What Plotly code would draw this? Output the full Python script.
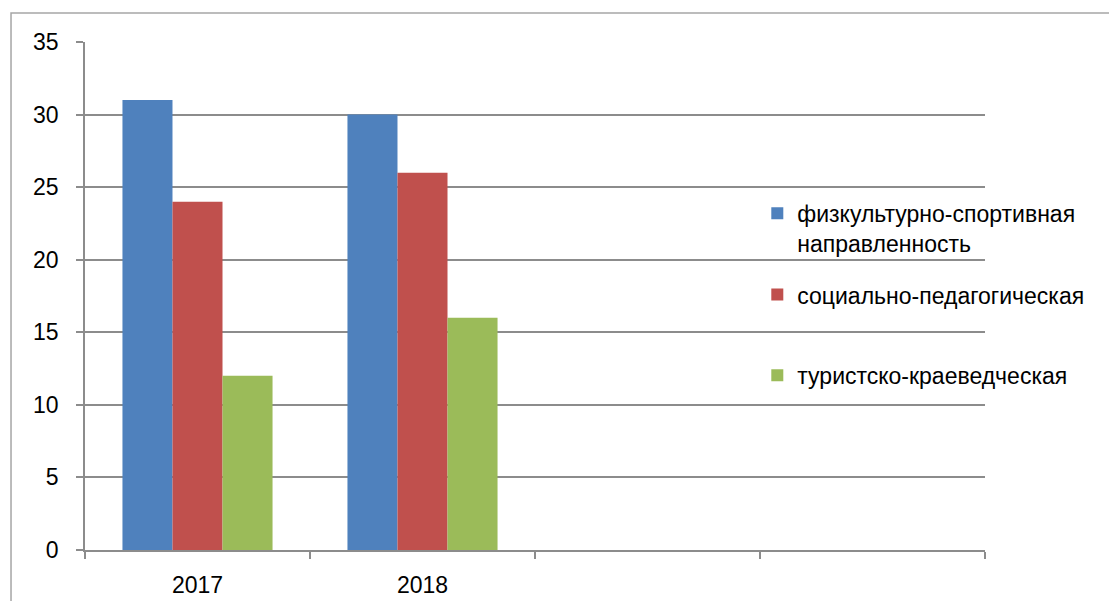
import plotly.graph_objects as go

categories = ["2017", "2018", " ", "  "]
series_names = ["физкультурно-спортивная<br>направленность",
                "социально-педагогическая",
                "туристско-краеведческая"]
values_sport = [31, 30, None, None]
values_social = [24, 26, None, None]
values_tour = [12, 16, None, None]
colors = ["#4F81BD", "#C0504D", "#9BBB59"]
legend_ids = ["legend", "legend2", "legend3"]
legend_y = [0.705, 0.545, 0.386]

fig = go.Figure()
for i, (name, vals) in enumerate(zip(series_names, [values_sport, values_social, values_tour])):
    fig.add_trace(go.Bar(x=categories, y=vals, name=name, marker_color=colors[i],
                         marker_line_width=0, legend=legend_ids[i]))

axis_col = "#8c8c8c"
legend_layout = {}
for lid, ly in zip(legend_ids, legend_y):
    legend_layout[lid] = dict(x=0.747, y=ly, xanchor="left", yanchor="top",
                              bgcolor="rgba(0,0,0,0)", font=dict(size=23),
                              valign="top", itemwidth=30)

fig.update_layout(
    width=1117, height=601,
    margin=dict(l=77, r=140, t=34, b=59),
    paper_bgcolor="white", plot_bgcolor="white",
    barmode="group", bargap=0.333, bargroupgap=0,
    font=dict(family="Liberation Sans", size=23, color="black"),
    showlegend=True,
    xaxis=dict(type="category", showline=True, linecolor=axis_col, linewidth=1.5,
               ticks="outside", tickson="boundaries", ticklen=7, tickcolor=axis_col,
               tickwidth=1.5, showgrid=False, ticklabelstandoff=14,
               range=[-0.5, 3.5]),
    yaxis=dict(range=[0, 35], dtick=5, showline=True, linecolor=axis_col, linewidth=1.5,
               ticks="outside", ticklen=7, tickcolor=axis_col, tickwidth=1.5,
               showgrid=True, gridcolor=axis_col, gridwidth=1.5, zeroline=False,
               ticklabelstandoff=13),
    **legend_layout,
)
fig.add_shape(type="rect", xref="paper", yref="paper",
              x0=-0.0822, x1=1.4, y0=-0.3, y1=1.0571,
              line=dict(color="#a6a6a6", width=1.5), layer="below")
fig.write_html("out.html")
